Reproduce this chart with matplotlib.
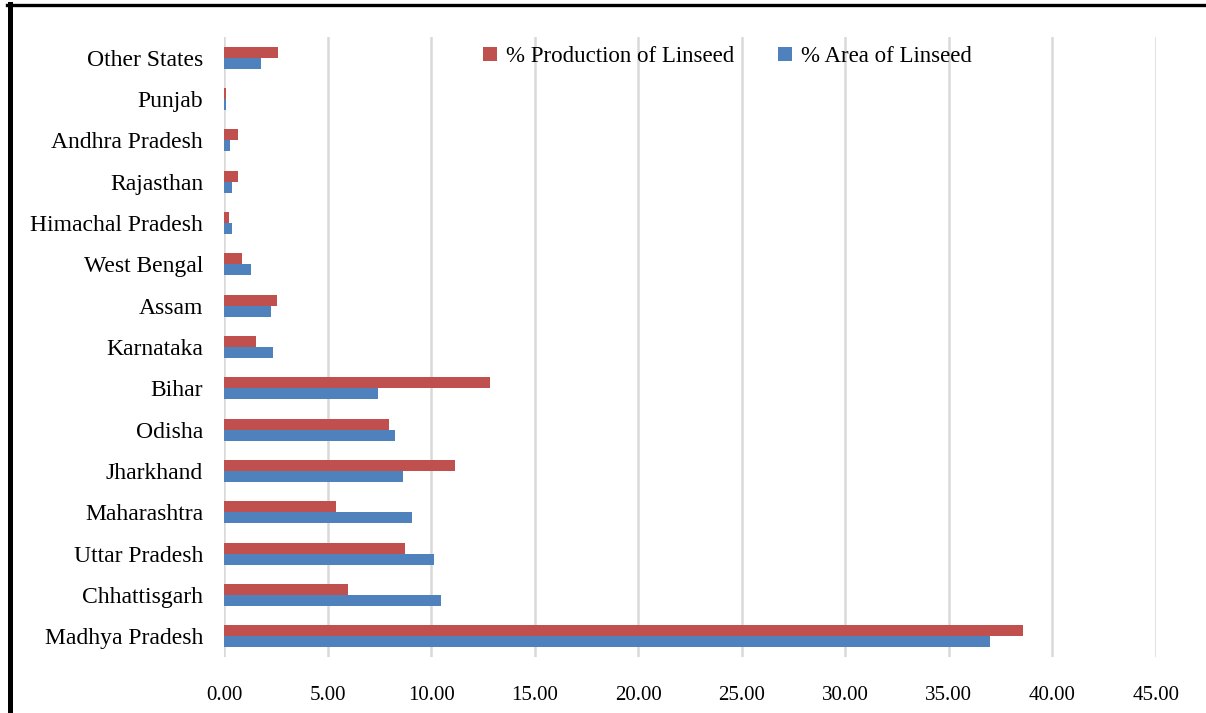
import numpy as np
import matplotlib
matplotlib.use('Agg')
import matplotlib.pyplot as plt
from matplotlib.lines import Line2D

# state-wise share of linseed production and area (%)
states = ['Madhya Pradesh', 'Chhattisgarh', 'Uttar Pradesh', 'Maharashtra', 'Jharkhand',
          'Odisha', 'Bihar', 'Karnataka', 'Assam', 'West Bengal', 'Himachal Pradesh',
          'Rajasthan', 'Andhra Pradesh', 'Punjab', 'Other States']
production = [38.60, 5.97, 8.75, 5.39, 11.16, 7.95, 12.85, 1.54, 2.54, 0.88, 0.26, 0.66, 0.66, 0.08, 2.60]
area = [37.00, 10.50, 10.12, 9.09, 8.66, 8.25, 7.42, 2.35, 2.27, 1.29, 0.39, 0.39, 0.31, 0.11, 1.77]
xticks = np.arange(0, 46, 5)

plt.rcParams['font.family'] = ['Liberation Serif', 'DejaVu Serif']

fig = plt.figure(figsize=(12.06, 7.13), dpi=100)
ax = fig.add_axes([224/1206, 1-657/713, (1156-224)/1206, (657-37)/713])

y = np.arange(len(states))
h = 0.27
ax.barh(y + h/2, production, height=h, color='#C0504D', label='% Production of Linseed', zorder=3)
ax.barh(y - h/2, area, height=h, color='#4F81BD', label='% Area of Linseed', zorder=3)

ax.set_xlim(0, 45)
ax.set_ylim(-0.5, len(states) - 0.5)
ax.set_xticks(xticks)
ax.set_xticklabels(['%.2f' % v for v in xticks], fontsize=15)
ax.set_yticks(y)
ax.set_yticklabels(states, fontsize=17)
ax.tick_params(axis='both', length=0)
ax.tick_params(axis='x', pad=21)
ax.tick_params(axis='y', pad=15)
ax.grid(axis='x', color='#D9D9D9', linewidth=1.8, zorder=0)
for s in ax.spines.values():
    s.set_visible(False)

ax.legend(loc='upper left', bbox_to_anchor=((474-224)/(1156-224), 1.0), ncol=2, frameon=False,
          fontsize=16.5, handlelength=0.6, handleheight=0.6, handletextpad=0.4,
          columnspacing=1.9, borderaxespad=0.0)

# border lines on the left and top
fig.add_artist(Line2D([9.5/1206, 9.5/1206], [0, 1-4/713], color='black', linewidth=3.6, transform=fig.transFigure))
fig.add_artist(Line2D([7/1206, 1], [1-5/713, 1-5/713], color='black', linewidth=2.4, transform=fig.transFigure))

fig.savefig('out.png', dpi=100)
